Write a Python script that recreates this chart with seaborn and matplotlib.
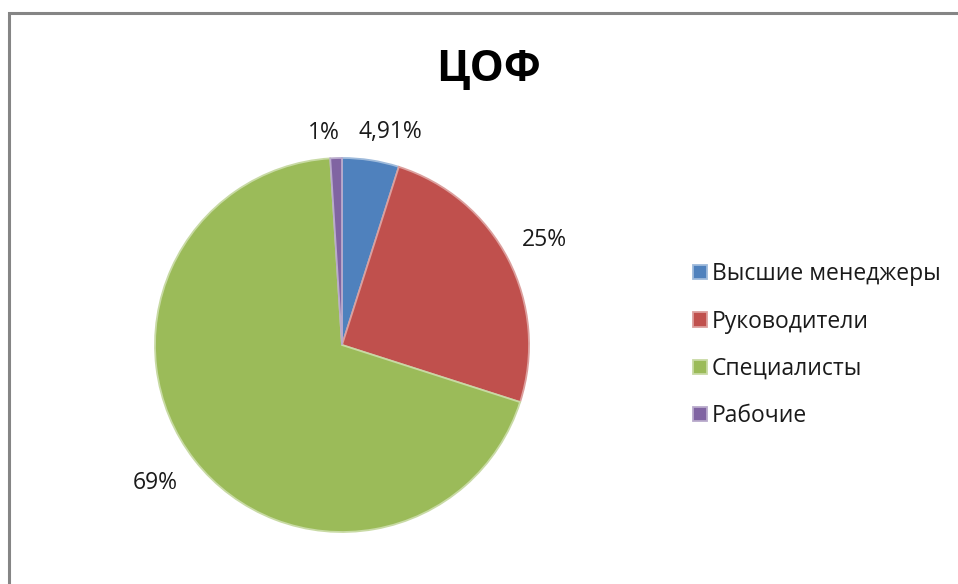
import seaborn as sns
import matplotlib
matplotlib.use("Agg")
from matplotlib import pyplot as plt
from matplotlib.patches import Rectangle
import numpy as np

# данные
categories = ["Высшие менеджеры", "Руководители", "Специалисты", "Рабочие"]
shares = [4.91, 25, 69, 1]
share_labels = ["4,91%", "25%", "69%", "1%"]
title = "ЦОФ"

sns.set_theme(style="white")
plt.rcParams['font.family'] = ['Open Sans', 'DejaVu Sans']

colors = ["#4F81BD", "#C0504D", "#9BBB59", "#8064A2"]

W, H = 958, 584
fig = plt.figure(figsize=(W / 100, H / 100), dpi=100)

# pie axes: центр (342, 345), радиус ~187 px
cx, cy, r = 342, 345, 187
ax = fig.add_axes([(cx - r) / W, (H - cy - r) / H, 2 * r / W, 2 * r / H])
wedges, texts = ax.pie(shares, labels=share_labels, colors=colors, startangle=90,
                       counterclock=False, labeldistance=1.2,
                       wedgeprops=dict(linewidth=1.3),
                       textprops=dict(fontsize=16.5, color="#1a1a1a"))
# светлая кромка как у объёмных секторов Excel
for w, c in zip(wedges, colors):
    rgb = np.array(matplotlib.colors.to_rgb(c))
    w.set_edgecolor(tuple(rgb + (1 - rgb) * 0.45))
ax.set_xlim(-1, 1)
ax.set_ylim(-1, 1)
ax.set_aspect("equal")
ax.axis("off")

# подправить положение подписей (как в Excel)
dang = [-4, 0, -1.5, 3]
dist = [1.17, 1.22, 1.24, 1.14]
for w, t, da, d in zip(wedges, texts, dang, dist):
    ang = np.deg2rad((w.theta1 + w.theta2) / 2 + da)
    t.set_position((d * np.cos(ang), d * np.sin(ang)))
    t.set_ha("center")
    t.set_va("center")

fig.text(488 / W, 1 - 70 / H, title, ha="center", va="center",
         fontsize=31, fontweight="bold", color="black")

leg = fig.legend(wedges, categories, loc="upper left",
                 bbox_to_anchor=(684 / W, 1 - 253 / H), frameon=False,
                 fontsize=16.5, handlelength=0.6, handleheight=0.6,
                 handletextpad=0.2, labelspacing=1.02, borderaxespad=0)
for txt in leg.get_texts():
    txt.set_color("#1a1a1a")

# рамка области диаграммы
fig.add_artist(Rectangle((9 / W, -0.1), 1.2, 1.1 - 13 / H,
                         transform=fig.transFigure, fill=False,
                         edgecolor="#858585", linewidth=2.2, clip_on=False))

fig.savefig("out.png", dpi=100, facecolor="white")
